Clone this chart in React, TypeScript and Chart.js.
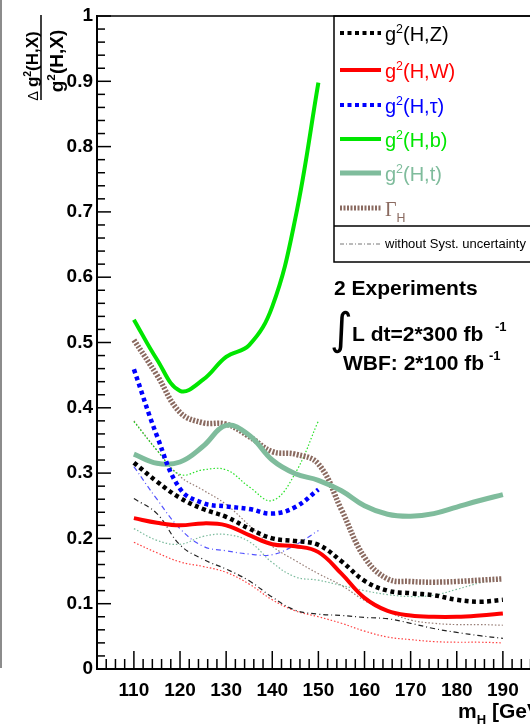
import React, { useEffect, useRef } from "react";
import { Chart, registerables } from "chart.js";

Chart.register(...registerables);

// Higgs mass points (GeV)
const massFull = [110, 115, 120, 125, 130, 135, 140, 145, 150, 155, 160, 165, 170, 175, 180, 185, 190];
const massLow = [110, 115, 120, 125, 130, 135, 140, 145, 150];

const xTickLabels = [110, 120, 130, 140, 150, 160, 170, 180, 190];
const yTickLabels = [0, 0.1, 0.2, 0.3, 0.4, 0.5, 0.6, 0.7, 0.8, 0.9, 1];

// with systematic uncertainty
const gZ = [0.316, 0.287, 0.262, 0.245, 0.233, 0.215, 0.2, 0.196, 0.19, 0.165, 0.135, 0.12, 0.116, 0.113, 0.106, 0.103, 0.106];
const gW = [0.231, 0.224, 0.22, 0.223, 0.22, 0.205, 0.191, 0.188, 0.179, 0.146, 0.109, 0.089, 0.082, 0.08, 0.08, 0.082, 0.085];
const gTau = [0.459, 0.357, 0.276, 0.254, 0.249, 0.245, 0.238, 0.248, 0.275];
const gB = [0.535, 0.474, 0.426, 0.443, 0.478, 0.496, 0.555, 0.69, 0.898];
const gT = [0.329, 0.315, 0.317, 0.341, 0.373, 0.358, 0.32, 0.299, 0.289, 0.273, 0.25, 0.237, 0.234, 0.238, 0.248, 0.258, 0.267];
const gammaH = [0.504, 0.45, 0.393, 0.377, 0.375, 0.356, 0.333, 0.329, 0.314, 0.244, 0.171, 0.138, 0.134, 0.133, 0.134, 0.136, 0.138];

// without systematic uncertainty
const gZns = [0.261, 0.238, 0.19, 0.168, 0.153, 0.135, 0.11, 0.09, 0.084, 0.082, 0.079, 0.077, 0.07, 0.062, 0.056, 0.051, 0.047];
const gWns = [0.194, 0.178, 0.164, 0.157, 0.148, 0.13, 0.106, 0.089, 0.08, 0.07, 0.058, 0.049, 0.045, 0.042, 0.041, 0.041, 0.04];
const gTauns = [0.31, 0.26, 0.215, 0.188, 0.181, 0.176, 0.175, 0.19, 0.212];
const gBns = [0.379, 0.335, 0.298, 0.305, 0.305, 0.279, 0.258, 0.3, 0.38];
const gTns = [0.215, 0.197, 0.191, 0.203, 0.206, 0.195, 0.163, 0.141, 0.136, 0.128, 0.12, 0.114, 0.111, 0.113, 0.122, 0.132, 0.14];
const gammaHns = [0.38, 0.335, 0.295, 0.274, 0.252, 0.22, 0.188, 0.166, 0.146, 0.128, 0.105, 0.088, 0.075, 0.07, 0.068, 0.068, 0.067];

const FONT = '"Liberation Sans", Arial, Helvetica, sans-serif';
const SERIF = '"Liberation Serif", "Times New Roman", serif';

const RED = "#ff0000";
const BLUE = "#0000ff";
const GREEN = "#00e600";
const TEAL = "#7fbc9c";
const BROWN = "#8a6a60";

const series = (label: string, xs: number[], ys: number[], color: string, width: number, dash: number[]) => ({
  label,
  data: xs.map((x, i) => ({ x, y: ys[i] })),
  borderColor: color,
  borderWidth: width,
  borderDash: dash,
  borderCapStyle: "butt" as const,
  pointRadius: 0,
  fill: false,
  tension: 0.4,
});

type Part = { t: string; sup?: boolean; sub?: boolean; weight?: string; k?: number; family?: string };

function drawRich(
  ctx: CanvasRenderingContext2D,
  x: number,
  y: number,
  parts: Part[],
  size: number,
  weight: string,
  color: string,
  dry = false
) {
  let cx = x;
  ctx.fillStyle = color;
  ctx.textAlign = "left";
  ctx.textBaseline = "alphabetic";
  for (const p of parts) {
    const s = (p.sup || p.sub ? size * 0.62 : size) * (p.k ?? 1);
    ctx.font = `${p.weight ?? weight} ${s}px ${p.family ?? FONT}`;
    const dy = p.sup ? -size * 0.42 : p.sub ? size * 0.3 : 0;
    if (!dry) ctx.fillText(p.t, cx, y + dy);
    cx += ctx.measureText(p.t).width;
  }
  return cx - x;
}

const g2 = (inner: string): Part[] => [{ t: "g" }, { t: "2", sup: true }, { t: inner }];

const legendRows = [
  { parts: g2("(H,Z)"), color: "#000", line: "#000", width: 4, dash: [4, 3.5], y: 33 },
  { parts: g2("(H,W)"), color: RED, line: RED, width: 4, dash: [], y: 70 },
  { parts: g2("(H,\u03c4)"), color: BLUE, line: BLUE, width: 4, dash: [4, 3.5], y: 105 },
  { parts: g2("(H,b)"), color: GREEN, line: GREEN, width: 4, dash: [], y: 139 },
  { parts: g2("(H,t)"), color: TEAL, line: TEAL, width: 5, dash: [], y: 173 },
  {
    parts: [
      { t: "\u0393", family: SERIF },
      { t: "H", sub: true },
    ] as Part[],
    color: BROWN,
    line: BROWN,
    width: 5,
    dash: [2, 1.5],
    y: 208,
  },
];

const decorPlugin = {
  id: "decor",
  afterDraw(chart: Chart) {
    const { ctx, chartArea: a } = chart;
    const x = chart.scales.x;
    const y = chart.scales.y;
    const seg = (x1: number, y1: number, x2: number, y2: number) => {
      ctx.beginPath();
      ctx.moveTo(x1, y1);
      ctx.lineTo(x2, y2);
      ctx.stroke();
    };
    ctx.save();

    // grey strip at the far left
    ctx.fillStyle = "#8c8c8c";
    ctx.fillRect(0, 0, 2, 668);

    // frame
    ctx.strokeStyle = "#000";
    ctx.lineWidth = 1.5;
    ctx.setLineDash([]);
    seg(a.left, a.top, a.right, a.top);
    seg(a.right, a.top, a.right, a.bottom);

    // inward ticks
    ctx.lineWidth = 1.5;
    for (let k = 0; k <= 50; k++) {
      const py = y.getPixelForValue(k / 50);
      seg(a.left, py, a.left + (k % 5 === 0 ? 14 : 8), py);
    }
    for (let m = 102; m <= 200; m += 2) {
      const px = x.getPixelForValue(m);
      seg(px, a.bottom, px, a.bottom - (m % 10 === 0 ? 18 : 10));
    }

    // y axis title (fraction)
    const num: Part[] = [{ t: "\u0394 ", weight: "normal", k: 0.85 }, ...g2("(H,X)")];
    const den: Part[] = g2("(H,X)");
    ctx.save();
    ctx.translate(38, 66);
    ctx.rotate(-Math.PI / 2);
    let w = drawRich(ctx, 0, 0, num, 17, "bold", "#000", true);
    drawRich(ctx, -w / 2, 0, num, 17, "bold", "#000");
    ctx.restore();
    ctx.save();
    ctx.translate(63, 61);
    ctx.rotate(-Math.PI / 2);
    w = drawRich(ctx, 0, 0, den, 19, "bold", "#000", true);
    drawRich(ctx, -w / 2, 0, den, 19, "bold", "#000");
    ctx.restore();
    ctx.strokeStyle = "#000";
    ctx.lineWidth = 1.5;
    seg(41, 15, 41, 100);

    // x axis title
    drawRich(ctx, 458, 718, [{ t: "m" }, { t: "H", sub: true }, { t: " [GeV]" }], 21, "bold", "#000");

    // legend box
    ctx.lineWidth = 1.5;
    ctx.strokeStyle = "#000";
    ctx.strokeRect(334, a.top, 260, 262 - a.top);
    seg(334, 226, 600, 226);
    for (const r of legendRows) {
      ctx.strokeStyle = r.line;
      ctx.lineWidth = r.width;
      ctx.setLineDash(r.dash);
      seg(340, r.y, 381, r.y);
      ctx.setLineDash([]);
      drawRich(ctx, 385, r.y + 8, r.parts, 20, "normal", r.color);
    }
    ctx.strokeStyle = "#777";
    ctx.lineWidth = 1;
    ctx.setLineDash([4, 2, 1, 2]);
    seg(340, 244, 381, 244);
    ctx.setLineDash([]);
    drawRich(ctx, 385, 248, [{ t: "without Syst. uncertainty" }], 13, "normal", "#000");

    // luminosity annotation
    drawRich(ctx, 334, 295, [{ t: "2 Experiments" }], 21, "bold", "#000");
    ctx.fillStyle = "#000";
    ctx.font = `normal 44px "DejaVu Sans", ${FONT}`;
    ctx.fillText("\u222b", 330, 344);
    drawRich(ctx, 352, 341, [{ t: "L dt=2*300 fb" }], 21, "bold", "#000");
    drawRich(ctx, 495, 331, [{ t: "-1" }], 13, "bold", "#000");
    drawRich(ctx, 343, 370, [{ t: "WBF: 2*100 fb" }], 21, "bold", "#000");
    drawRich(ctx, 489, 360, [{ t: "-1" }], 13, "bold", "#000");

    ctx.restore();
  },
};

const App: React.FC = () => {
  const canvasRef = useRef<HTMLCanvasElement>(null);
  const chartRef = useRef<Chart | null>(null);

  useEffect(() => {
    if (!canvasRef.current) return;
    const ctx = canvasRef.current.getContext("2d");
    if (!ctx) return;
    if (chartRef.current) chartRef.current.destroy();

    chartRef.current = new Chart(ctx, {
      type: "line",
      data: {
        datasets: [
          series("g2(H,b)", massLow, gB, GREEN, 4, []),
          series("g2(H,W)", massFull, gW, RED, 4, []),
          series("g2(H,Z)", massFull, gZ, "#000", 4.5, [4, 3.5]),
          series("g2(H,tau)", massLow, gTau, BLUE, 4.5, [4, 3.5]),
          series("g2(H,t)", massFull, gT, TEAL, 5, []),
          series("Gamma_H", massFull, gammaH, BROWN, 5.5, [2, 1.5]),
          series("g2(H,Z) no syst", massFull, gZns, "#222", 1.2, [5, 3, 1, 3]),
          series("g2(H,W) no syst", massFull, gWns, "rgba(255,0,0,0.75)", 1.2, [1.5, 2]),
          series("g2(H,tau) no syst", massLow, gTauns, "rgba(40,40,255,0.8)", 1.2, [5, 3, 1, 3]),
          series("g2(H,b) no syst", massLow, gBns, "rgba(0,220,0,0.85)", 1.2, [1.5, 2]),
          series("g2(H,t) no syst", massFull, gTns, "rgba(100,175,140,0.85)", 1.2, [1.5, 2]),
          series("Gamma_H no syst", massFull, gammaHns, "rgba(130,100,90,0.85)", 1.2, [1.5, 2]),
        ],
      },
      options: {
        animation: false,
        responsive: false,
        events: [],
        layout: { padding: { top: 16, right: 11, left: 0, bottom: 0 } },
        plugins: { legend: { display: false }, tooltip: { enabled: false } },
        scales: {
          x: {
            type: "linear",
            min: 102,
            max: 200,
            afterBuildTicks: (s: any) => {
              s.ticks = xTickLabels.map((v) => ({ value: v }));
            },
            afterFit: (s: any) => {
              s.height = 59;
            },
            grid: { display: false, drawTicks: false },
            border: { display: true, color: "#000", width: 2 },
            ticks: {
              color: "#000",
              font: { family: FONT, size: 19, weight: "bold" },
              padding: 10,
              maxRotation: 0,
              autoSkip: false,
            },
          },
          y: {
            type: "linear",
            min: 0,
            max: 1,
            afterBuildTicks: (s: any) => {
              s.ticks = yTickLabels.map((v) => ({ value: v }));
            },
            afterFit: (s: any) => {
              s.width = 97;
            },
            grid: { display: false, drawTicks: false },
            border: { display: true, color: "#000", width: 2 },
            ticks: {
              color: "#000",
              font: { family: FONT, size: 19, weight: "bold" },
              padding: 4,
              autoSkip: false,
              callback: (v: any) => String(Math.round(Number(v) * 10) / 10),
            },
          },
        },
      },
      plugins: [decorPlugin],
    });

    return () => {
      if (chartRef.current) {
        chartRef.current.destroy();
        chartRef.current = null;
      }
    };
  }, []);

  return (
    <div style={{ position: "fixed", left: 0, top: 0, width: 530, height: 728, overflow: "hidden", background: "#fff" }}>
      <canvas ref={canvasRef} width={560} height={728} style={{ width: 560, height: 728, display: "block" }}></canvas>
    </div>
  );
};

export default App;
